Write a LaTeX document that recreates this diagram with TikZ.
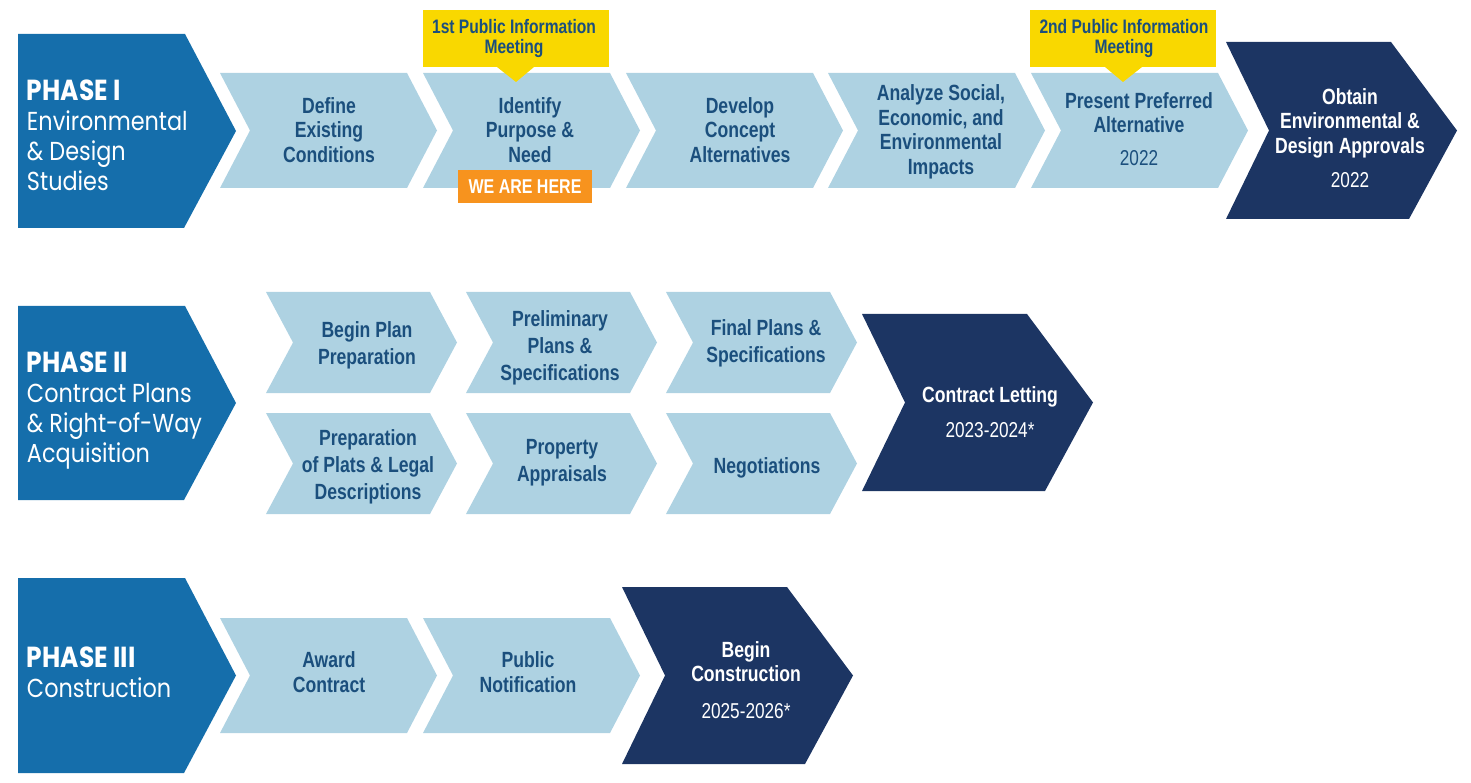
\documentclass[tikz,border=0pt]{standalone}
\usepackage{fontspec}
\newfontfamily\cond[FakeStretch=0.80]{Liberation Sans}
\newfontfamily\fut[FakeStretch=0.86]{Poppins}
\newcommand\yrfont{\cond\mdseries\fontsize{21.5}{24}\selectfont}
\definecolor{phaseblue}{HTML}{156EAB}
\definecolor{lightbox}{HTML}{AED2E2}
\definecolor{navy}{HTML}{1C3563}
\definecolor{txtblue}{HTML}{1B4F7D}
\definecolor{yell}{HTML}{F9D800}
\definecolor{orng}{HTML}{F7931E}
\newcommand\lightchev[3]{% x left, y top, y bottom
  \fill[lightbox] (#1,#2) -- ({#1+187},#2) -- ({#1+217},{(#2+#3)/2}) -- ({#1+187},#3) -- (#1,#3) -- ({#1+30},{(#2+#3)/2}) -- cycle;}
\newcommand\smallchev[3]{%
  \fill[lightbox] (#1,#2) -- ({#1+164},#2) -- ({#1+191},{(#2+#3)/2}) -- ({#1+164},#3) -- (#1,#3) -- ({#1+27},{(#2+#3)/2}) -- cycle;}
\newcommand\darkchev[3]{%
  \fill[navy] (#1,#2) -- ({#1+165},#2) -- ({#1+231},{(#2+#3)/2}) -- ({#1+183},#3) -- (#1,#3) -- ({#1+43},{(#2+#3)/2}) -- cycle;}
\newcommand\phasebox[2]{%
  \fill[phaseblue] (18,#1) -- (185,#1) -- (236,{(#1+#2)/2}) -- (184,#2) -- (18,#2) -- cycle;}
\tikzset{
  every node/.style={inner sep=0pt, outer sep=0pt},
  lt/.style={text=txtblue, align=center, font=\cond\bfseries\fontsize{22}{24.5}\selectfont},
  lt2/.style={text=txtblue, align=center, font=\cond\bfseries\fontsize{22}{27}\selectfont},
  dk/.style={text=white, align=center, font=\cond\bfseries\fontsize{22}{24.5}\selectfont},
  yl/.style={text=txtblue, align=center, font=\cond\bfseries\fontsize{19.5}{20}\selectfont},
  ph/.style={text=white, align=left, anchor=north west, font=\fut\fontsize{26}{30}\selectfont},
}
\begin{document}
\begin{tikzpicture}[x=1pt,y=-1pt]
\useasboundingbox (0,0) rectangle (1471,783);
% ---------- Phase I ----------
\phasebox{34}{228}
\node[ph] (p1) at (27,80) {{\bfseries\fontsize{29}{30}\selectfont PHASE I}\\Environmental\\\& Design\\Studies};
\lightchev{220}{73}{188}
\lightchev{423}{73}{188}
\lightchev{626}{73}{188}
\lightchev{828}{73}{188}
\lightchev{1031}{73}{188}
\darkchev{1226}{42}{219}
\node[lt] (define) at (329,130) {Define\\Existing\\Conditions};
\node[lt] (identify) at (530,130) {Identify\\Purpose \&\\Need};
\node[lt] (develop) at (740,130) {Develop\\Concept\\Alternatives};
\node[lt] (analyze) at (941,132) {Analyze Social,\\Economic, and\\Environmental\\Impacts};
\node[lt] (present) at (1139,129) {Present Preferred\\Alternative\\[8pt]{\yrfont 2022}};
\node[dk] (obtain) at (1350,138) {Obtain\\Environmental \&\\Design Approvals\\[10pt]{\yrfont 2022}};
% callouts
\fill[yell] (423,10) rectangle (609,67);
\fill[yell] (497,67) -- (534,67) -- (516,82) -- cycle;
\node[yl] (pim1) at (514,39) {1st Public Information\\Meeting};
\fill[yell] (1030,10) rectangle (1216,67);
\fill[yell] (1105,67) -- (1142,67) -- (1123,82) -- cycle;
\node[yl] (pim2) at (1124,39) {2nd Public Information\\Meeting};
\fill[orng] (458,170) rectangle (592,203);
\node[text=white, font=\cond\bfseries\fontsize{20}{20}\selectfont] (here) at (525,187) {WE ARE HERE};
% ---------- Phase II ----------
\phasebox{306}{500}
\node[ph] (p2) at (27,352) {{\bfseries\fontsize{29}{30}\selectfont PHASE II}\\Contract Plans\\\& Right-of-Way\\Acquisition};
\smallchev{266}{292}{393}
\smallchev{466}{292}{393}
\smallchev{666}{292}{393}
\smallchev{266}{413}{514}
\smallchev{466}{413}{514}
\smallchev{666}{413}{514}
\darkchev{862}{314}{491}
\node[lt2] (beginplan) at (367,345) {Begin Plan\\Preparation};
\node[lt2] (prelim) at (560,348) {Preliminary\\Plans \&\\Specifications};
\node[lt2] (final) at (766,343) {Final Plans \&\\Specifications};
\node[lt2] (plats) at (368,467) {Preparation\\of Plats \& Legal\\Descriptions};
\node[lt2] (apprais) at (562,463) {Property\\Appraisals};
\node[lt2] (negot) at (767,468) {Negotiations};
\node[dk] (letting) at (990,412) {Contract Letting\\[11pt]{\yrfont 2023-2024*}};
% ---------- Phase III ----------
\phasebox{578}{773}
\node[ph] (p3) at (27,647) {{\bfseries\fontsize{29}{30}\selectfont PHASE III}\\Construction};
\lightchev{220}{618}{733}
\lightchev{423}{618}{733}
\darkchev{622}{587}{764}
\node[lt] (award) at (329,672) {Award\\Contract};
\node[lt] (notif) at (528,672) {Public\\Notification};
\node[dk] (begincon) at (746,680) {Begin\\Construction\\[12pt]{\yrfont 2025-2026*}};
\end{tikzpicture}
\end{document}
